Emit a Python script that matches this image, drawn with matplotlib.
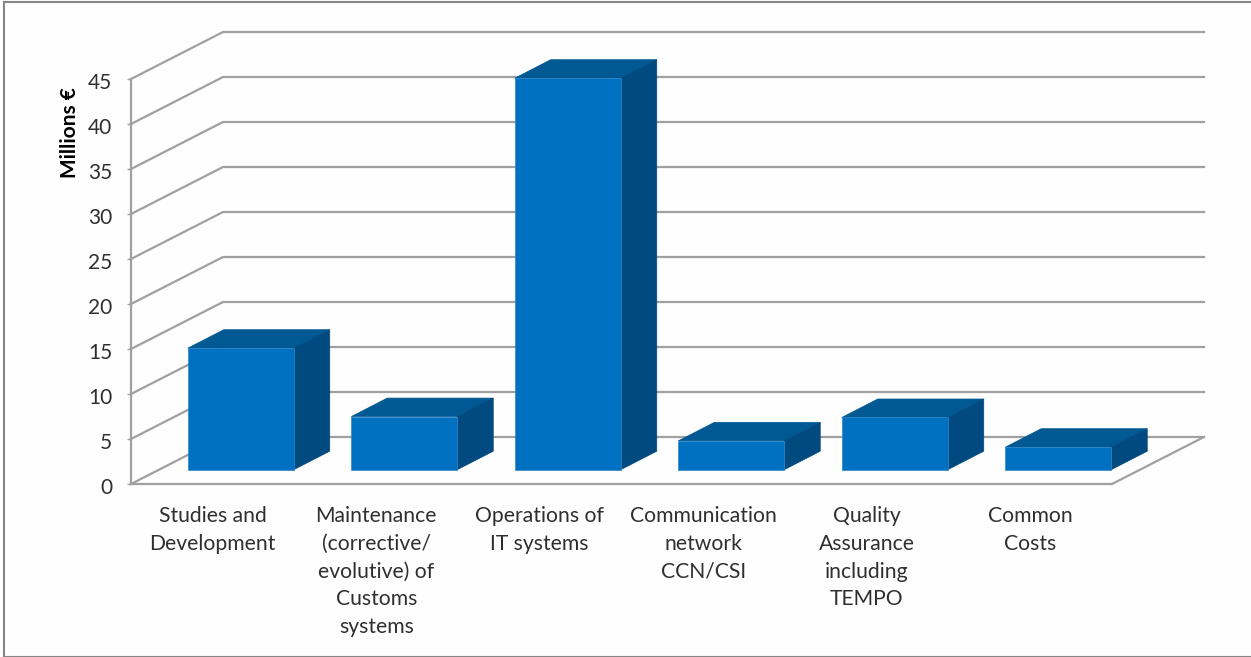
import matplotlib
matplotlib.use('Agg')
import matplotlib.pyplot as plt
from matplotlib.patches import Polygon, Rectangle
from matplotlib.transforms import ScaledTranslation

categories = ['Studies and\nDevelopment',
              'Maintenance\n(corrective/\nevolutive) of\nCustoms\nsystems',
              'Operations of\nIT systems',
              'Communication\nnetwork\nCCN/CSI',
              'Quality\nAssurance\nincluding\nTEMPO',
              'Common\nCosts']
values = [13.5, 5.9, 43.5, 3.2, 5.8, 2.5]
y_ticks = list(range(0, 50, 5))

plt.rcParams['font.family'] = ['Lato', 'DejaVu Sans']

W, H = 1251, 657
GREY = '#a0a0a0'
TEXT = '#2f2f2f'
FRONT = '#0070c0'
TOP = '#005993'
SIDE = '#004a80'

fig = plt.figure(figsize=(W / 100, H / 100), dpi=100, facecolor='#fefefe')
ax = fig.add_axes([131 / W, (H - 484) / H, 981 / W, 405 / H])
ax.patch.set_alpha(0)
ax.set_xlim(0, len(categories))
ax.set_ylim(0, 45)

# depth of the chart box and of the bars, in data units
box_dx = 92 / 163.5
box_dy = 47 / 9
bar_dx = 36 / 163.5
bar_dy = 18.5 / 9
gap = (1 - bar_dx / box_dx) / 2
bar_w = 106 / 163.5

n = len(categories)

# side wall and back wall lines
for v in y_ticks:
    ax.plot([0, box_dx, n + box_dx], [v, v + box_dy, v + box_dy],
            color=GREY, lw=1.6, zorder=1, clip_on=False, solid_joinstyle='miter')
ax.plot([n, n + box_dx], [0, box_dy], color=GREY, lw=1.6, zorder=1, clip_on=False)

# 3d bars: top and side faces first, front face over them
for i, v in enumerate(values):
    x0 = i + 0.5 - bar_w / 2 + gap * box_dx
    x1 = x0 + bar_w
    y0 = gap * box_dy
    y1 = y0 + v
    top = [(x0, y1), (x1, y1), (x1 + bar_dx, y1 + bar_dy), (x0 + bar_dx, y1 + bar_dy)]
    side = [(x1, y0), (x1 + bar_dx, y0 + bar_dy), (x1 + bar_dx, y1 + bar_dy), (x1, y1)]
    ax.add_patch(Polygon(top, fc=TOP, ec=TOP, lw=0.5, zorder=3, clip_on=False))
    ax.add_patch(Polygon(side, fc=SIDE, ec=SIDE, lw=0.5, zorder=3, clip_on=False))
    ax.add_patch(Rectangle((x0, y0), bar_w, v, fc=FRONT, ec='#2f86c8', lw=0.5,
                           zorder=4, clip_on=False))

for s in ['top', 'right']:
    ax.spines[s].set_visible(False)
for s in ['left', 'bottom']:
    ax.spines[s].set_color(GREY)
    ax.spines[s].set_linewidth(1.6)

ax.set_yticks(y_ticks)
ax.set_yticklabels([str(v) for v in y_ticks], fontsize=15, color=TEXT)
ax.tick_params(axis='y', length=3, width=1, color=GREY, pad=10.5)
# nudge the value labels down a little
nudge = ScaledTranslation(0, -2 / 100, fig.dpi_scale_trans)
for lab in ax.get_yticklabels():
    lab.set_transform(lab.get_transform() + nudge)

ax.set_xticks([i + 0.5 for i in range(n)])
ax.set_xticklabels(categories, fontsize=15.2, color=TEXT, linespacing=1.48)
ax.tick_params(axis='x', length=0, pad=16)

ax.set_ylabel('Millions €', fontsize=15, fontweight='bold', color='black')
ax.yaxis.set_label_coords((80 - 131) / 981, (484 - 133) / 405)

# outer chart frame
frame = dict(color='#868686', lw=1.5, transform=fig.transFigure)
fig.add_artist(plt.Line2D([4 / W, 4 / W], [0.5 / H, (H - 2) / H], **frame))
fig.add_artist(plt.Line2D([4 / W, 1], [(H - 2) / H, (H - 2) / H], **frame))
fig.add_artist(plt.Line2D([4 / W, 1], [0.5 / H, 0.5 / H], **frame))

fig.savefig('out.png', dpi=100, facecolor=fig.get_facecolor())
